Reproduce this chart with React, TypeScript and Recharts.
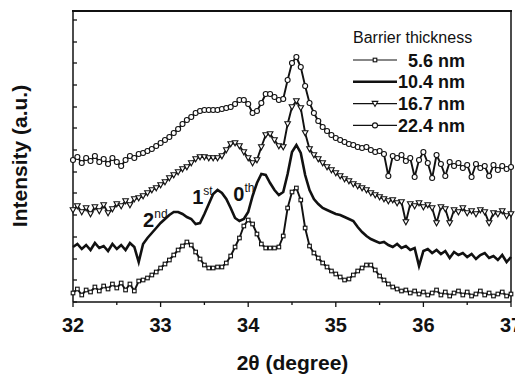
import { LineChart, Line, XAxis, YAxis, ReferenceDot } from "recharts";

// 2-theta grid (degree)
const THETA = [
  32, 32.05, 32.1, 32.15, 32.2, 32.25, 32.3, 32.35, 32.4, 32.45,
  32.5, 32.55, 32.6, 32.65, 32.7, 32.75, 32.8, 32.85, 32.9, 32.95,
  33, 33.05, 33.1, 33.15, 33.2, 33.25, 33.3, 33.35, 33.4, 33.45,
  33.5, 33.55, 33.6, 33.65, 33.7, 33.75, 33.8, 33.85, 33.9, 33.95,
  34, 34.05, 34.1, 34.15, 34.2, 34.25, 34.3, 34.35, 34.4, 34.45,
  34.5, 34.55, 34.6, 34.65, 34.7, 34.75, 34.8, 34.85, 34.9, 34.95,
  35, 35.05, 35.1, 35.15, 35.2, 35.25, 35.3, 35.35, 35.4, 35.45,
  35.5, 35.55, 35.6, 35.65, 35.7, 35.75, 35.8, 35.85, 35.9, 35.95,
  36, 36.05, 36.1, 36.15, 36.2, 36.25, 36.3, 36.35, 36.4, 36.45,
  36.5, 36.55, 36.6, 36.65, 36.7, 36.75, 36.8, 36.85, 36.9, 36.95,
  37,
];

// intensities (a.u., curves already offset)
const I_22_4 = [
  142, 145, 139, 144, 141, 146, 140, 143, 138, 144,
  140, 136, 142, 146, 144, 148, 149, 151, 153, 156,
  159, 162, 165, 169, 173, 178, 182, 185, 189, 191,
  192, 192, 192, 192, 193, 194, 195, 198, 202, 202,
  198, 189, 191, 199, 208, 208, 205, 202, 203, 222,
  239, 245, 235, 216, 199, 189, 181, 175, 171, 167,
  164, 162, 160, 158, 157, 155, 154, 155, 152, 150,
  151, 148, 126, 146, 144, 147, 141, 144, 125, 142,
  150, 139, 124, 147, 138, 126, 140, 136, 139, 134,
  137, 125, 138, 134, 136, 126, 137, 132, 136, 133,
  135,
];

const I_16_7 = [
  92, 96, 90, 94, 88, 95, 91, 97, 89, 93,
  98, 96, 101, 97, 103, 104, 106, 109, 112, 114,
  117, 120, 124, 127, 130, 133, 135, 139, 143, 145,
  145, 144, 144, 144, 146, 152, 158, 159, 156, 150,
  144, 139, 142, 155, 167, 168, 162, 156, 155, 178,
  195, 201, 194, 169, 153, 147, 143, 139, 135, 132,
  129, 126, 123, 121, 118, 116, 114, 112, 109, 107,
  105, 103, 101, 102, 99, 100, 80, 98, 96, 99,
  95, 97, 94, 79, 95, 93, 79, 92, 90, 94,
  89, 91, 88, 92, 90, 79, 89, 88, 91, 86,
  88,
];

const I_10_4 = [
  55, 58, 53, 57, 52, 59, 54, 56, 51, 58,
  53, 57, 52, 59, 55, 40, 58, 64, 69, 74,
  79, 83, 87, 90, 90, 88, 85, 83, 78, 79,
  88, 98, 108, 112, 109, 103, 94, 84, 81, 83,
  90, 106, 119, 128, 127, 119, 112, 107, 110, 128,
  150, 157, 149, 127, 112, 103, 98, 94, 92, 90,
  88, 87, 85, 83, 81, 75, 70, 66, 63, 61,
  59, 60, 57, 55, 58, 54, 56, 52, 54, 36,
  51, 53, 49, 52, 48, 51, 44, 50, 47, 49,
  45, 48, 43, 47, 49, 44, 46, 42, 47, 40,
  45,
];

const I_5_6 = [
  9, 13, 7, 12, 10, 15, 11, 16, 13, 18,
  14, 19, 12, 18, 11, 21, 22, 24, 27, 30,
  34, 38, 42, 47, 52, 56, 60, 57, 50, 43,
  37, 34, 34, 35, 35, 39, 46, 55, 64, 76,
  82, 78, 68, 58, 54, 54, 54, 55, 66, 94,
  110, 114, 102, 74, 56, 49, 44, 39, 35, 31,
  28, 25, 22, 23, 27, 31, 34, 37, 37, 32,
  26, 22, 18, 15, 13, 11, 12, 9, 11, 8,
  10, 7, 9, 12, 7, 10, 6, 9, 11, 7,
  10, 6, 8, 11, 7, 9, 6, 8, 10, 6,
  8,
];

const X_TICKS = [32, 32.5, 33, 33.5, 34, 34.5, 35, 35.5, 36, 36.5, 37];
const Y_TICKS = [0, 22, 43, 65, 87, 109, 130, 152, 174, 195, 217, 239, 260, 282];

const SERIES = [
  { key: "t56", name: "5.6 nm", marker: "square" },
  { key: "t104", name: "10.4 nm", marker: "none" },
  { key: "t167", name: "16.7 nm", marker: "triangle" },
  { key: "t224", name: "22.4 nm", marker: "circle" },
];

const ORDERS = [
  { x: 32.8, y: 75, main: "2", sup: "nd" },
  { x: 33.36, y: 98, main: "1", sup: "st" },
  { x: 33.83, y: 101, main: "0", sup: "th" },
];

const data = THETA.map((x, i) => ({
  x,
  t56: I_5_6[i],
  t104: I_10_4[i],
  t167: I_16_7[i],
  t224: I_22_4[i],
}));

const W = 523;
const H = 383;
const MARGIN = { top: 11, right: 11, bottom: 51, left: 72 };
const FONT = "'Liberation Sans', Arial, Helvetica, sans-serif";
const INK = "#111";

function Marker({ kind, cx, cy }: { kind: string; cx: number; cy: number }) {
  if (kind === "square")
    return <rect x={cx - 1.8} y={cy - 1.8} width={3.6} height={3.6} fill="#fff" stroke={INK} strokeWidth={1.1} />;
  if (kind === "triangle")
    return (
      <polygon
        points={`${cx - 2.8},${cy - 2.2} ${cx + 2.8},${cy - 2.2} ${cx},${cy + 2.8}`}
        fill="#fff"
        stroke={INK}
        strokeWidth={1.1}
      />
    );
  if (kind === "circle") return <circle cx={cx} cy={cy} r={2.5} fill="#fff" stroke={INK} strokeWidth={1.1} />;
  return null;
}

const makeDot = (kind: string) => (props: any) =>
  <Marker key={`${kind}-${props.index}`} kind={kind} cx={props.cx} cy={props.cy} />;

// bottom axis: outward ticks, labels on whole degrees
const XTick = ({ x, y, payload }: any) => {
  const major = Number.isInteger(payload.value);
  return (
    <g>
      <line x1={x} x2={x} y1={y} y2={y + (major ? 5 : 3)} stroke={INK} strokeWidth={1.3} />
      {major && (
        <text x={x} y={y + 30} textAnchor="middle" fontSize={20} fontWeight="bold" fill={INK} fontFamily={FONT}>
          {payload.value}
        </text>
      )}
    </g>
  );
};

// left / right: short inward ticks only
const InTick = ({ x, y, side }: any) => {
  if (side === "left") return <line x1={x} x2={x + 4} y1={y} y2={y} stroke={INK} strokeWidth={1.3} />;
  return <line x1={x} x2={x - 4} y1={y} y2={y} stroke={INK} strokeWidth={1.3} />;
};

export default function App() {
  return (
    <div style={{ position: "relative", left: -8, top: -8, width: W, height: H, fontFamily: FONT }}>
      <LineChart width={W} height={H} data={data} margin={MARGIN}>
        <XAxis
          dataKey="x"
          type="number"
          domain={[32, 37]}
          ticks={X_TICKS}
          interval={0}
          tick={<XTick />}
          tickSize={0}
          tickMargin={0}
          tickLine={false}
          height={30}
          stroke={INK}
          strokeWidth={1.5}
        />
        <YAxis
          type="number"
          domain={[0, 291]}
          ticks={Y_TICKS}
          interval={0}
          tick={<InTick side="left" />}
          tickSize={0}
          tickMargin={0}
          tickLine={false}
          width={1}
          stroke={INK}
          strokeWidth={1.5}
        />
        <YAxis
          yAxisId="right"
          orientation="right"
          type="number"
          domain={[0, 291]}
          ticks={Y_TICKS}
          interval={0}
          tick={<InTick side="right" />}
          tickSize={0}
          tickMargin={0}
          tickLine={false}
          width={1}
          stroke={INK}
          strokeWidth={1.5}
        />
        {SERIES.map((s) => (
          <Line
            key={s.key}
            dataKey={s.key}
            name={s.name}
            type="linear"
            stroke={INK}
            strokeWidth={s.marker === "none" ? 2.6 : 1.9}
            dot={s.marker === "none" ? false : makeDot(s.marker)}
            activeDot={false}
            isAnimationActive={false}
          />
        ))}
        {ORDERS.map((o) => (
          <ReferenceDot
            key={o.main}
            x={o.x}
            y={o.y}
            r={0}
            shape={(p: any) => (
              <text x={p.cx} y={p.cy} fontSize={20} fontWeight="bold" fill={INK} fontFamily={FONT}>
                {o.main}
                <tspan fontSize={12} fontWeight="normal" dy={-9}>
                  {o.sup}
                </tspan>
              </text>
            )}
          />
        ))}
      </LineChart>
      <div
        style={{
          position: "absolute",
          left: MARGIN.left,
          top: MARGIN.top - 1,
          width: W - MARGIN.left - MARGIN.right,
          height: 2,
          background: INK,
        }}
      />
      <svg
        width={W}
        height={H}
        style={{ position: "absolute", left: 0, top: 0, pointerEvents: "none" }}
        fontFamily={FONT}
      >
        <text x={292.5} y={370} textAnchor="middle" fontSize={21} fontWeight="bold" fill={INK}>
          2θ (degree)
        </text>
        <text
          x={27}
          y={156}
          textAnchor="middle"
          fontSize={21}
          fontWeight="bold"
          fill={INK}
          transform="rotate(-90, 27, 156)"
        >
          Intensity (a.u.)
        </text>
        <text x={353} y={43} fontSize={16} fill={INK}>
          Barrier thickness
        </text>
        {SERIES.map((s, i) => {
          const cy = 60 + i * 21.8;
          return (
            <g key={s.key}>
              <line x1={353} x2={397} y1={cy} y2={cy} stroke={INK} strokeWidth={s.marker === "none" ? 2.4 : 1.2} />
              <Marker kind={s.marker} cx={375} cy={cy} />
              <text x={465} y={cy + 6.5} textAnchor="end" fontSize={18} fontWeight="bold" fill={INK}>
                {s.name}
              </text>
            </g>
          );
        })}
      </svg>
    </div>
  );
}
